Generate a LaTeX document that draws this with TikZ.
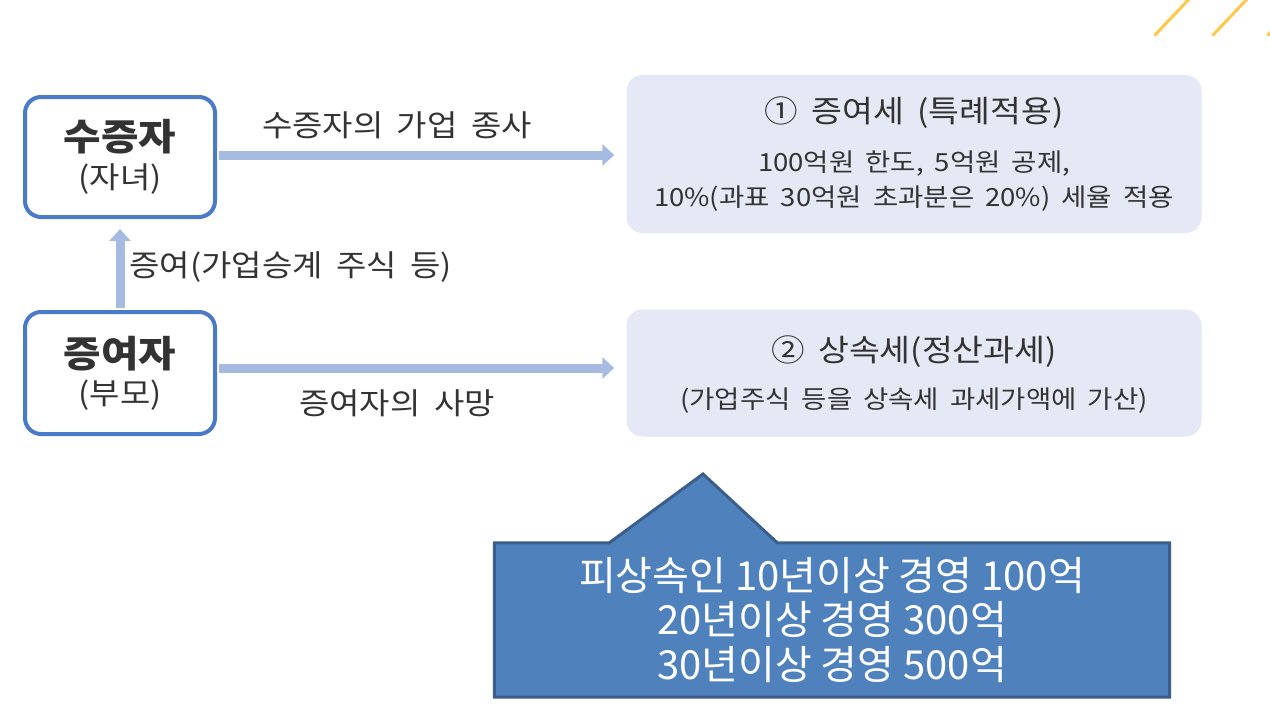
\documentclass[tikz,border=0pt]{standalone}
\usepackage{fontspec}
\setmainfont{Noto Sans CJK KR}
\newfontfamily\krimg{Noto Sans CJK KR}[FakeStretch=1.1,WordSpace=1.8]
\usetikzlibrary{arrows.meta,positioning,backgrounds}

\definecolor{boxblue}{HTML}{4A7BC8}
\definecolor{arrowblue}{HTML}{A7BADF}
\definecolor{panelfill}{HTML}{E4E9F5}
\definecolor{calloutfill}{HTML}{4F81BD}
\definecolor{calloutline}{HTML}{3B5E8C}
\definecolor{textgray}{HTML}{333333}
\definecolor{accentgold}{HTML}{FFC84A}

\tikzset{
  personbox/.style={draw=boxblue, line width=4pt, rounded corners=16pt, fill=white,
    minimum width=190pt, minimum height=120pt, align=center, text=textgray, font=\krimg},
  panel/.style={fill=panelfill, rounded corners=16pt, minimum width=575pt},
  paneltitle/.style={text=textgray, font=\krimg\fontsize{30.5}{34}\selectfont},
  panelbody/.style={text=textgray, align=center, font=\krimg\fontsize{25}{35}\selectfont},
  flow/.style={arrowblue, line width=9pt, -{Triangle[width=21pt,length=12pt]}},
  flowlabel/.style={text=textgray, font=\krimg\fontsize{30}{34}\selectfont},
  calloutnote/.style={minimum width=675pt, minimum height=154pt, align=center,
    text=white, font=\fontsize{40}{44.5}\selectfont}
}

\begin{document}
\begin{tikzpicture}[x=1pt,y=-1pt]
  \useasboundingbox (0,0) rectangle (1270,712);
  \begin{pgfonlayer}{background}
    \fill[white] (0,0) rectangle (1270,712);
  \end{pgfonlayer}

  % corner strokes
  \draw[accentgold, line width=3pt, line cap=round] (1155,35) -- (1192,-4);
  \draw[accentgold, line width=3pt, line cap=round] (1213,35) -- (1250,-4);
  \draw[accentgold, line width=3pt, line cap=round] (1268,35) -- (1305,-4);

  % persons
  \node[personbox] (donee) at (120,157)
    {{\bfseries\fontsize{37}{40}\selectfont 수증자}\\[8pt]{\fontsize{30}{32}\selectfont (자녀)}};
  \node[personbox, minimum height=122pt] (donor) at (120,373)
    {{\bfseries\fontsize{37}{40}\selectfont 증여자}\\[8pt]{\fontsize{30}{32}\selectfont (부모)}};

  % tax panels
  \node[panel, minimum height=158pt] (gifttax) at (914,154) {};
  \node[paneltitle] (gifttitle) at (914,113) {① 증여세 (특례적용)};
  \node[panelbody] (giftbody) at (914,181)
    {100억원 한도, 5억원 공제,\\10\%(과표 30억원 초과분은 20\%) 세율 적용};
  \node[panel, minimum height=127pt] (inherit) at (914,373) {};
  \node[paneltitle] (inherittitle) at (914,352) {② 상속세(정산과세)};
  \node[panelbody] (inheritbody) at (914,401) {(가업주식 등을 상속세 과세가액에 가산)};

  % flows
  \draw[flow, shorten <=2pt, shorten >=12pt] ([yshift=2pt]donee.east) -- ([yshift=2pt]donee.east -| gifttax.west);
  \draw[flow, shorten <=2pt, shorten >=10pt] (donor.north) -- (donee.south);
  \draw[flow, shorten <=2pt, shorten >=12pt] ([yshift=5pt]donor.east) -- ([yshift=5pt]donor.east -| inherit.west);
  \node[flowlabel] (worklabel) at (397,125) {수증자의 가업 종사};
  \node[flowlabel, anchor=west] (giftlabel) at (126,267) {증여(가업승계 주식 등)};
  \node[flowlabel] (deathlabel) at (397,403) {증여자의 사망};

  % callout
  \node[calloutnote] (ceiling) at (832,620)
    {피상속인 10년이상 경영 100억\\20년이상 경영 300억\\30년이상 경영 500억};
  \coordinate (tip) at (703,474);
  \begin{pgfonlayer}{background}
    \draw[calloutline, fill=calloutfill, line width=3pt]
      (ceiling.north west) -- ([xshift=115pt]ceiling.north west) -- (tip)
      -- ([xshift=283pt]ceiling.north west) -- (ceiling.north east)
      -- (ceiling.south east) -- (ceiling.south west) -- cycle;
  \end{pgfonlayer}
\end{tikzpicture}
\end{document}
